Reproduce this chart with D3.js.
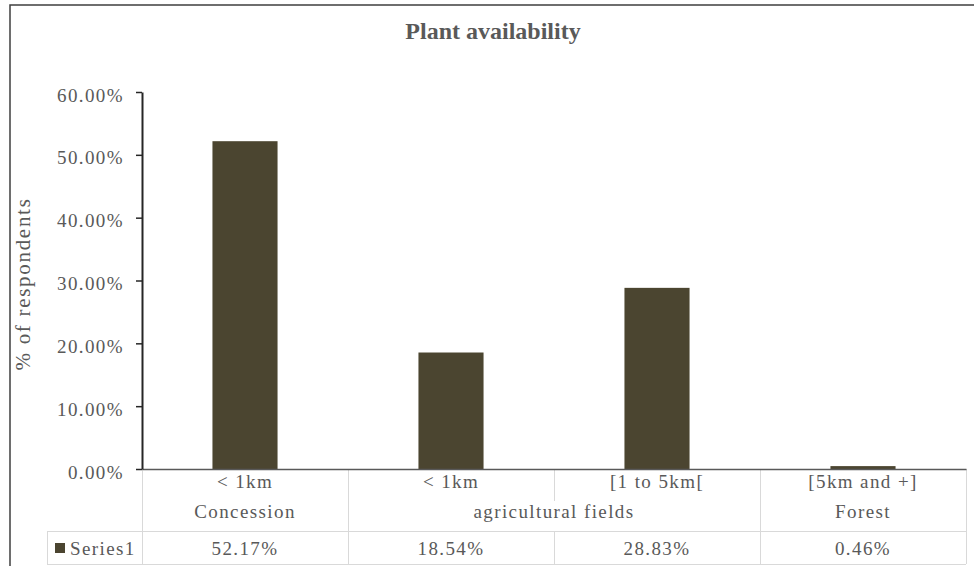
<!DOCTYPE html>
<html>
<head>
<meta charset="utf-8">
<script src="https://cdn.jsdelivr.net/npm/d3@7"></script>
<style>
  html, body { margin: 0; padding: 0; background: #fff; }
  svg { display: block; }
  text { font-family: "Liberation Serif", "Times New Roman", serif; }
</style>
</head>
<body>
<svg id="chart" width="974" height="566"></svg>
<script>
// Chart data
const distances = ["< 1km", "< 1km", "[1 to 5km[", "[5km and +]"];
const places = ["Concession", "agricultural fields", "agricultural fields", "Forest"];
const series1 = [52.17, 18.54, 28.83, 0.46];
const yTicks = [0, 10, 20, 30, 40, 50, 60];
const seriesName = "Series1";

const W = 974, H = 566;
const plot = { left: 142, right: 966, top: 92, bottom: 469 };
const row1 = 501, row2 = 531, row3 = 564;
const barColor = "#4b4530";
const textColor = "#595959";
const gridColor = "#d9d9d9";
const fontSize = 19, tracking = 1.4;

const svg = d3.select("#chart");

// outer chart frame (runs past the right and bottom edges)
svg.append("rect")
  .attr("x", 10).attr("y", 5)
  .attr("width", W + 20).attr("height", H + 20)
  .attr("fill", "#fff").attr("stroke", "#3f3f3f").attr("stroke-width", 1.5);

const idx = d3.range(series1.length);
const x = d3.scaleBand().domain(idx).range([plot.left, plot.right]).padding(0);
const y = d3.scaleLinear().domain([0, 60]).range([plot.bottom, plot.top]);
const barW = x.bandwidth() * 0.316;

// title
svg.append("text")
  .attr("x", 493).attr("y", 38.5)
  .attr("text-anchor", "middle")
  .attr("font-size", 24).attr("font-weight", "bold")
  .attr("fill", textColor)
  .text("Plant availability");

// y axis title
svg.append("text")
  .attr("transform", "translate(30,284) rotate(-90)")
  .attr("text-anchor", "middle")
  .attr("font-size", 21)
  .attr("letter-spacing", 1.7)
  .attr("fill", textColor)
  .text("% of respondents");

// bars
svg.append("g").selectAll("rect")
  .data(idx)
  .join("rect")
  .attr("x", i => x(i) + (x.bandwidth() - barW) / 2)
  .attr("y", i => y(series1[i]))
  .attr("width", barW)
  .attr("height", i => y(0) - y(series1[i]))
  .attr("fill", barColor);

// data table grid
const grid = svg.append("g").attr("stroke", gridColor).attr("stroke-width", 1).attr("shape-rendering", "crispEdges");
const bounds = idx.map(i => x(i)).concat([plot.right]);
bounds.forEach((bx, k) => {
  const inner = k > 0 && k < bounds.length - 1 && places[k] === places[k - 1];
  if (inner) {
    grid.append("line").attr("x1", bx).attr("x2", bx).attr("y1", plot.bottom).attr("y2", row1);
    grid.append("line").attr("x1", bx).attr("x2", bx).attr("y1", row2).attr("y2", row3);
  } else {
    grid.append("line").attr("x1", bx).attr("x2", bx).attr("y1", plot.bottom).attr("y2", row3);
  }
});
grid.append("line").attr("x1", 47).attr("x2", plot.right).attr("y1", row2).attr("y2", row2);
grid.append("line").attr("x1", 47).attr("x2", plot.right).attr("y1", row3).attr("y2", row3);
grid.append("line").attr("x1", 47).attr("x2", 47).attr("y1", row2).attr("y2", row3);

// table text
const tableText = svg.append("g")
  .attr("font-size", fontSize).attr("letter-spacing", tracking)
  .attr("fill", textColor).attr("text-anchor", "middle");

tableText.selectAll("text.dist")
  .data(idx).join("text").attr("class", "dist")
  .attr("x", i => x(i) + x.bandwidth() / 2)
  .attr("y", 488)
  .text(i => distances[i]);

// group labels spanning consecutive categories with the same place
const groups = [];
idx.forEach(i => {
  const last = groups[groups.length - 1];
  if (last && last.name === places[i]) last.end = i;
  else groups.push({ name: places[i], start: i, end: i });
});
tableText.selectAll("text.place")
  .data(groups).join("text").attr("class", "place")
  .attr("x", g => (x(g.start) + x(g.end) + x.bandwidth()) / 2)
  .attr("y", 518)
  .text(g => g.name);

tableText.selectAll("text.val")
  .data(idx).join("text").attr("class", "val")
  .attr("x", i => x(i) + x.bandwidth() / 2)
  .attr("y", 555)
  .text(i => series1[i].toFixed(2) + "%");

// legend key in the table
svg.append("rect")
  .attr("x", 55).attr("y", 543).attr("width", 10).attr("height", 10)
  .attr("fill", barColor);
svg.append("text")
  .attr("x", 70).attr("y", 555)
  .attr("font-size", fontSize).attr("letter-spacing", tracking)
  .attr("fill", textColor)
  .text(seriesName);

// x axis line
svg.append("g")
  .attr("transform", `translate(0,${plot.bottom})`)
  .call(d3.axisBottom(x).tickSize(0).tickFormat(""))
  .call(g => g.select(".domain").attr("stroke", "#595959").attr("stroke-width", 1.5));

// y axis
svg.append("g")
  .attr("transform", `translate(${plot.left},0)`)
  .call(d3.axisLeft(y).tickValues(yTicks).tickSize(6).tickSizeOuter(0).tickPadding(12)
    .tickFormat(d => d.toFixed(2) + "%"))
  .call(g => g.select(".domain").attr("stroke", "#262626").attr("stroke-width", 2))
  .call(g => g.selectAll(".tick line").attr("stroke", "#262626").attr("stroke-width", 1.5))
  .call(g => g.selectAll(".tick text")
    .attr("font-family", "Liberation Serif, Times New Roman, serif")
    .attr("font-size", fontSize).attr("letter-spacing", tracking)
    .attr("fill", textColor).attr("dy", "0.48em"));
</script>
</body>
</html>
